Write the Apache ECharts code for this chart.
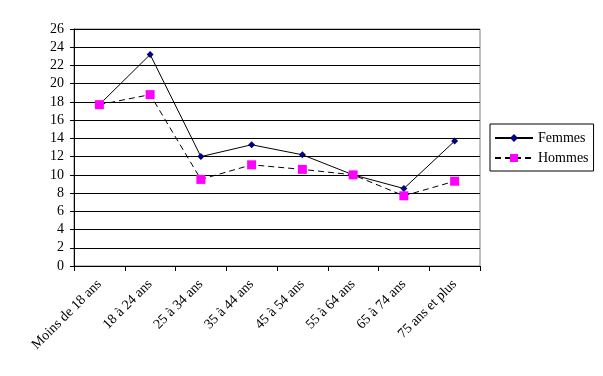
<!DOCTYPE html>
<html>
<head>
<meta charset="utf-8">
<script src="https://cdn.jsdelivr.net/npm/echarts@6/dist/echarts.min.js"></script>
<style>
  html, body { margin: 0; padding: 0; background: #fff; }
</style>
</head>
<body>
<div id="myChart" style="width:603px;height:376px;"></div>
<script>
  var categories = ['Moins de 18 ans', '18 à 24 ans', '25 à 34 ans', '35 à 44 ans',
    '45 à 54 ans', '55 à 64 ans', '65 à 74 ans', '75 ans et plus']
  var femmes = [17.7, 23.2, 12.0, 13.3, 12.2, 10.0, 8.5, 13.7]
  var hommes = [17.7, 18.8, 9.5, 11.1, 10.6, 10.0, 7.7, 9.3]

  var font = 'Liberation Serif'
  var myChart = echarts.init(document.getElementById('myChart'))
  myChart.setOption({
    animation: false,
    grid: {
      left: 74, right: 123, top: 29, bottom: 110,
      show: true, borderColor: '#808080', borderWidth: 1
    },
    legend: {
      orient: 'vertical',
      left: 490, top: 124,
      padding: [7, 5, 6, 4],
      borderColor: '#000', borderWidth: 1,
      itemGap: 6, itemWidth: 38, itemHeight: 10,
      textStyle: {fontFamily: font, fontSize: 14, color: '#000'},
      data: ['Femmes', 'Hommes']
    },
    xAxis: {
      type: 'category',
      data: categories,
      boundaryGap: true,
      axisLine: {lineStyle: {color: '#000'}},
      axisTick: {show: true, inside: false, length: 5, lineStyle: {color: '#000'}},
      axisLabel: {
        rotate: 45, interval: 0, margin: 16,
        fontFamily: font, fontSize: 14, color: '#000'
      }
    },
    yAxis: {
      type: 'value',
      min: 0, max: 26, interval: 2,
      axisLine: {show: true, lineStyle: {color: '#000'}},
      axisTick: {show: true, length: 4, lineStyle: {color: '#000'}},
      axisLabel: {fontFamily: font, fontSize: 14, color: '#000', margin: 10},
      splitLine: {lineStyle: {color: '#000', width: 1}}
    },
    series: [{
      name: 'Femmes',
      type: 'line',
      data: femmes,
      symbol: 'diamond',
      symbolSize: 7,
      itemStyle: {color: '#000080'},
      lineStyle: {color: '#000', width: 1, type: 'solid'}
    }, {
      name: 'Hommes',
      type: 'line',
      data: hommes,
      symbol: 'rect',
      symbolSize: 9,
      itemStyle: {color: '#ff00ff'},
      lineStyle: {color: '#000', width: 1, type: [6, 4]}
    }]
  })
</script>
</body>
</html>
